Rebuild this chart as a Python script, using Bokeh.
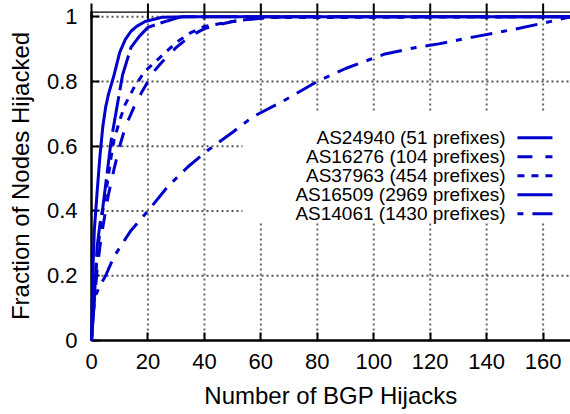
import math
from bokeh.plotting import figure
from bokeh.models import (FixedTicker, Range1d, Label, Arrow, Span)
from bokeh.embed import file_html
from bokeh.resources import INLINE

# ---------------- data ----------------
series_names = ["AS24940 (51 prefixes)", "AS16276 (104 prefixes)", "AS37963 (454 prefixes)",
                "AS16509 (2969 prefixes)", "AS14061 (1430 prefixes)"]

as24940_x = [0, 0.5, 1, 2, 3, 4, 5, 6, 8, 10, 12, 14, 16, 19, 25, 35, 170]
as24940_y = [0, 0.22, 0.34, 0.46, 0.57, 0.66, 0.72, 0.76, 0.82, 0.89, 0.93, 0.955, 0.97, 0.985, 0.998, 1, 1]

as16276_x = [0, 1, 2, 3, 4, 5, 6, 8, 10, 12, 15, 18, 20, 22, 25, 30, 35, 40, 45, 50, 60, 70, 170]
as16276_y = [0, 0.12, 0.22, 0.29, 0.35, 0.40, 0.45, 0.53, 0.60, 0.66, 0.72, 0.77, 0.80, 0.83, 0.86,
             0.905, 0.94, 0.963, 0.975, 0.985, 0.995, 1, 1]

as37963_x = [0, 1, 2, 3, 4, 5, 6, 7, 8, 10, 12, 15, 18, 20, 25, 30, 35, 40, 50, 60, 170]
as37963_y = [0, 0.16, 0.26, 0.34, 0.40, 0.45, 0.51, 0.57, 0.62, 0.68, 0.73, 0.78, 0.82, 0.84, 0.88,
             0.92, 0.95, 0.97, 0.985, 0.997, 1]

as16509_x = [0, 1, 2, 3, 4, 5, 6, 7, 9, 11, 14, 17, 20, 25, 32, 170]
as16509_y = [0, 0.13, 0.29, 0.36, 0.41, 0.48, 0.55, 0.62, 0.72, 0.82, 0.905, 0.94, 0.967, 0.982, 1, 1]

as14061_x = [0, 1, 3, 5, 8, 11, 14, 20, 27, 34, 41, 50, 57, 67, 80, 90, 104, 115, 123, 137, 152, 161, 170]
as14061_y = [0, 0.13, 0.17, 0.2, 0.26, 0.3, 0.34, 0.40, 0.475, 0.535, 0.586, 0.643, 0.69, 0.735, 0.80,
             0.84, 0.885, 0.905, 0.916, 0.94, 0.965, 0.982, 1.0]

x_ticks = [0, 20, 40, 60, 80, 100, 120, 140, 160]
y_ticks = [0, 0.2, 0.4, 0.6, 0.8, 1]
y_tick_labels = {0: "0", 0.2: "0.2", 0.4: "0.4", 0.6: "0.6", 0.8: "0.8", 1: "1"}

# ---------------- style ----------------
BLUE = "#0000cc"
FONT = "Liberation Sans"
X_END, Y_END = 169.7, 1.016
dashes = ["solid", "15 13", "7 7", "36 6", "6 9 22 9"]
series = [(as24940_x, as24940_y), (as16276_x, as16276_y), (as37963_x, as37963_y),
          (as16509_x, as16509_y), (as14061_x, as14061_y)]

p = figure(width=570, height=414, output_backend="svg", toolbar_location=None,
           x_range=Range1d(0, X_END), y_range=Range1d(0, Y_END),
           x_axis_label="Number of BGP Hijacks", y_axis_label="Fraction of Nodes Hijacked",
           min_border_left=91, min_border_right=0, min_border_top=11, min_border_bottom=74)
p.outline_line_color = None
p.background_fill_color = "white"
p.border_fill_color = "white"
p.grid.visible = False

for ax in (p.xaxis[0], p.yaxis[0]):
    ax.axis_line_width = 2.5
    ax.axis_line_color = "black"
    ax.major_tick_in = 8
    ax.major_tick_out = 0
    ax.major_tick_line_color = "black"
    ax.major_tick_line_width = 2
    ax.minor_tick_line_color = None
    ax.major_label_text_font = FONT
    ax.major_label_text_font_size = "22px"
    ax.major_label_text_color = "black"
    ax.axis_label_text_font = FONT
    ax.axis_label_text_font_size = "24px"
    ax.axis_label_text_font_style = "normal"
    ax.axis_label_text_color = "black"

p.xaxis[0].ticker = FixedTicker(ticks=x_ticks)
p.yaxis[0].ticker = FixedTicker(ticks=y_ticks)
p.yaxis[0].major_label_overrides = y_tick_labels
p.xaxis[0].major_label_standoff = 13
p.xaxis[0].axis_label_standoff = 10
p.yaxis[0].major_label_standoff = 14
p.yaxis[0].axis_label_standoff = 10

# dotted grid drawn as glyphs from the tick lists (glyph level, drawn first)
p.segment(x0=x_ticks[1:], y0=[0] * (len(x_ticks) - 1), x1=x_ticks[1:], y1=[Y_END] * (len(x_ticks) - 1),
          line_color="#666666", line_dash="2 3", line_width=2)
p.segment(x0=[0] * (len(y_ticks) - 1), y0=y_ticks[1:], x1=[X_END] * (len(y_ticks) - 1), y1=y_ticks[1:],
          line_color="#555555", line_dash="2 3", line_width=2)

# opaque key box (above the grid, below the curves)
LEG_LEFT, LEG_RIGHT, LEG_TOP, LEG_BOTTOM = 53.5, X_END, 0.707, 0.364
p.quad(left=[LEG_LEFT], right=[LEG_RIGHT], top=[LEG_TOP], bottom=[LEG_BOTTOM],
       fill_color="white", fill_alpha=1, line_color=None)

# top border and mirrored ticks
p.add_layout(Span(location=Y_END, dimension="width", line_color="black", line_width=2.5))
p.scatter(x=x_ticks, y=[Y_END] * len(x_ticks), marker="dash", angle=math.pi / 2, size=16,
          line_color="black", line_width=2, level="overlay")

for (xs, ys), d in zip(series, dashes):
    p.line(xs, ys, line_color=BLUE, line_width=3, line_dash=d, level="overlay")

# legend entries
TEXT_X, S0, S1 = 146.7, 150.9, 163.3
ROW0, ROW_STEP = 0.626, 0.0587
for i, (name, d) in enumerate(zip(series_names, dashes)):
    yy = ROW0 - i * ROW_STEP
    p.add_layout(Label(x=TEXT_X, y=yy, text=name, text_align="right", text_baseline="middle",
                       text_font=FONT, text_font_size="19px", text_color="black"))
    p.add_layout(Arrow(end=None, x_start=S0, y_start=yy, x_end=S1, y_end=yy,
                       line_color=BLUE, line_width=3, line_dash=d))

open("out.html", "w").write(file_html(p, INLINE))
